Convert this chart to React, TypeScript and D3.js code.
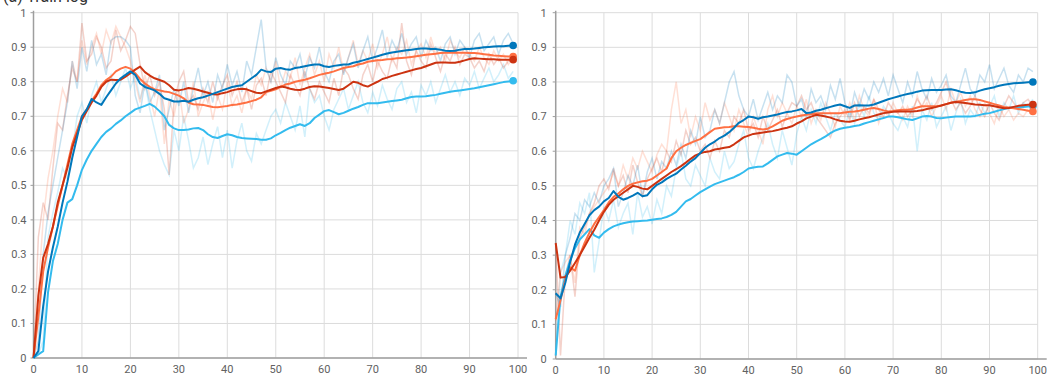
import * as d3 from "d3";

// training curves, one value per step (0..99)
const yTicks = [0, 0.1, 0.2, 0.3, 0.4, 0.5, 0.6, 0.7, 0.8, 0.9, 1];
const xTicks = [0, 10, 20, 30, 40, 50, 60, 70, 80, 90, 100];

// ---- panel A (left) smoothed
const leftBlue = [0,0.02,0.15,0.25,0.32,0.38,0.45,0.51,0.58,0.64,0.70,0.72,0.75,0.74,0.733,0.755,0.775,0.795,0.81,0.82,0.83,0.82,0.795,0.785,0.78,0.775,0.765,0.752,0.748,0.743,
  0.743,0.745,0.742,0.748,0.752,0.755,0.76,0.765,0.77,0.775,0.78,0.785,0.788,0.79,0.80,0.81,0.82,0.835,0.83,0.828,0.838,0.84,0.836,0.835,0.84,0.842,0.845,0.848,0.85,0.85,
  0.845,0.843,0.846,0.848,0.85,0.85,0.855,0.858,0.862,0.866,0.87,0.874,0.878,0.882,0.885,0.887,0.889,0.891,0.893,0.895,0.896,0.896,0.895,0.895,0.893,0.89,0.889,0.89,0.893,0.895,
  0.895,0.896,0.898,0.9,0.901,0.902,0.903,0.903,0.904,0.905];
const leftOrange = [0,0.12,0.25,0.32,0.38,0.44,0.50,0.56,0.62,0.66,0.70,0.72,0.745,0.765,0.79,0.805,0.815,0.83,0.838,0.843,0.838,0.825,0.808,0.795,0.785,0.778,0.775,0.772,0.77,0.765,
  0.76,0.752,0.74,0.735,0.734,0.733,0.73,0.727,0.726,0.728,0.73,0.733,0.734,0.737,0.74,0.744,0.748,0.755,0.77,0.774,0.778,0.785,0.792,0.795,0.80,0.803,0.806,0.81,0.815,0.82,
  0.823,0.826,0.83,0.835,0.84,0.843,0.845,0.85,0.853,0.858,0.86,0.862,0.863,0.865,0.866,0.868,0.869,0.87,0.872,0.874,0.876,0.878,0.88,0.881,0.883,0.884,0.884,0.885,0.884,0.884,
  0.883,0.883,0.882,0.88,0.878,0.876,0.875,0.874,0.873,0.873];
const leftRed = [0,0.18,0.29,0.33,0.38,0.45,0.50,0.55,0.61,0.65,0.69,0.715,0.74,0.76,0.785,0.80,0.806,0.805,0.806,0.815,0.825,0.835,0.844,0.828,0.818,0.81,0.805,0.80,0.79,0.777,
  0.775,0.778,0.782,0.78,0.776,0.772,0.768,0.764,0.763,0.767,0.77,0.775,0.778,0.78,0.778,0.773,0.768,0.767,0.772,0.777,0.782,0.786,0.784,0.78,0.777,0.776,0.78,0.785,0.787,0.786,
  0.784,0.782,0.779,0.776,0.78,0.79,0.80,0.797,0.79,0.786,0.793,0.80,0.808,0.812,0.817,0.821,0.825,0.829,0.833,0.837,0.84,0.845,0.85,0.855,0.856,0.856,0.855,0.855,0.858,0.862,
  0.866,0.868,0.867,0.866,0.865,0.865,0.864,0.864,0.864,0.864];
const leftCyan = [0,0.01,0.02,0.19,0.28,0.33,0.40,0.45,0.46,0.50,0.545,0.575,0.60,0.62,0.64,0.655,0.665,0.678,0.688,0.70,0.71,0.72,0.725,0.73,0.736,0.728,0.715,0.70,0.675,0.665,
  0.66,0.66,0.662,0.665,0.666,0.66,0.648,0.64,0.637,0.643,0.648,0.645,0.64,0.637,0.636,0.635,0.634,0.632,0.632,0.636,0.645,0.652,0.66,0.667,0.672,0.677,0.672,0.68,0.695,0.705,
  0.715,0.718,0.712,0.706,0.71,0.716,0.722,0.727,0.733,0.738,0.738,0.738,0.74,0.742,0.744,0.746,0.748,0.752,0.756,0.757,0.757,0.758,0.76,0.762,0.765,0.768,0.771,0.773,0.775,0.777,
  0.779,0.781,0.784,0.787,0.79,0.793,0.796,0.799,0.801,0.803];

// ---- panel A raw
const leftBlueRaw = [0.00,0.05,0.30,0.42,0.50,0.58,0.66,0.74,0.86,0.78,0.90,0.83,0.92,0.85,0.88,0.82,0.92,0.93,0.93,0.92,0.90,0.76,0.71,0.80,0.74,0.77,0.82,0.66,0.72,0.78,
  0.73,0.80,0.71,0.78,0.84,0.76,0.80,0.74,0.82,0.78,0.85,0.79,0.83,0.77,0.86,0.82,0.90,0.98,0.84,0.80,0.87,0.82,0.79,0.86,0.84,0.88,0.81,0.87,0.84,0.90,
  0.83,0.80,0.86,0.88,0.82,0.87,0.91,0.84,0.89,0.93,0.86,0.90,0.95,0.87,0.92,0.89,0.94,0.88,0.91,0.93,0.87,0.92,0.89,0.90,0.86,0.91,0.93,0.88,0.92,0.90,
  0.87,0.92,0.94,0.89,0.91,0.93,0.88,0.92,0.94,0.91];
const leftCyanRaw = [0.00,0.01,0.05,0.35,0.42,0.48,0.55,0.52,0.60,0.70,0.74,0.68,0.76,0.80,0.74,0.78,0.82,0.76,0.80,0.84,0.78,0.82,0.75,0.80,0.72,0.66,0.60,0.56,0.53,0.66,
  0.60,0.70,0.63,0.55,0.58,0.64,0.56,0.62,0.67,0.58,0.66,0.55,0.63,0.68,0.60,0.57,0.65,0.62,0.66,0.70,0.72,0.68,0.74,0.70,0.66,0.73,0.64,0.78,0.74,0.76,
  0.70,0.66,0.72,0.75,0.78,0.72,0.76,0.80,0.74,0.71,0.77,0.73,0.79,0.75,0.72,0.78,0.80,0.74,0.77,0.71,0.79,0.76,0.80,0.74,0.78,0.82,0.77,0.80,0.76,0.81,
  0.79,0.83,0.78,0.81,0.84,0.80,0.82,0.85,0.81,0.83];
const leftOrangeRaw = [0.00,0.20,0.40,0.52,0.60,0.70,0.78,0.74,0.86,0.80,0.92,0.85,0.90,0.94,0.88,0.95,0.91,0.96,0.93,0.90,0.86,0.80,0.74,0.82,0.76,0.70,0.78,0.62,0.75,0.70,
  0.78,0.68,0.72,0.80,0.70,0.74,0.77,0.69,0.76,0.72,0.80,0.73,0.76,0.71,0.78,0.75,0.82,0.79,0.84,0.80,0.86,0.78,0.83,0.81,0.87,0.79,0.84,0.88,0.82,0.86,
  0.80,0.88,0.84,0.90,0.83,0.87,0.92,0.85,0.89,0.86,0.91,0.84,0.88,0.93,0.86,0.90,0.88,0.92,0.85,0.89,0.91,0.87,0.93,0.88,0.90,0.86,0.92,0.89,0.87,0.90,
  0.88,0.86,0.90,0.87,0.85,0.89,0.86,0.88,0.85,0.87];
const leftRedRaw = [0.00,0.35,0.45,0.40,0.55,0.68,0.66,0.76,0.84,0.80,0.97,0.86,0.88,0.93,0.90,0.84,0.86,0.95,0.89,0.92,0.96,0.94,0.85,0.78,0.82,0.76,0.80,0.72,0.53,0.74,
  0.80,0.83,0.74,0.76,0.72,0.78,0.74,0.80,0.75,0.79,0.82,0.76,0.80,0.74,0.78,0.72,0.79,0.81,0.76,0.83,0.80,0.77,0.74,0.82,0.79,0.76,0.83,0.78,0.75,0.80,
  0.77,0.74,0.81,0.76,0.84,0.82,0.78,0.75,0.82,0.85,0.80,0.86,0.83,0.81,0.87,0.84,0.97,0.86,0.82,0.89,0.86,0.84,0.91,0.87,0.83,0.88,0.86,0.90,0.85,0.88,
  0.87,0.84,0.86,0.83,0.88,0.85,0.87,0.84,0.86,0.86];

// ---- panel B (right) smoothed
const rightBlue = [0.19,0.175,0.22,0.28,0.33,0.365,0.39,0.415,0.43,0.44,0.455,0.465,0.485,0.468,0.46,0.465,0.472,0.48,0.47,0.473,0.49,0.503,0.51,0.52,0.528,0.535,0.547,0.558,0.57,0.58,
  0.595,0.61,0.62,0.628,0.638,0.645,0.655,0.668,0.682,0.69,0.70,0.698,0.694,0.698,0.70,0.703,0.706,0.71,0.713,0.715,0.718,0.722,0.71,0.712,0.717,0.72,0.724,0.728,0.732,0.735,
  0.73,0.725,0.732,0.733,0.732,0.732,0.735,0.74,0.745,0.75,0.754,0.758,0.762,0.765,0.768,0.772,0.775,0.776,0.777,0.777,0.777,0.778,0.779,0.776,0.772,0.769,0.768,0.77,0.775,0.779,
  0.782,0.785,0.789,0.792,0.794,0.796,0.797,0.798,0.799,0.80];
const rightOrange = [0.115,0.17,0.23,0.265,0.255,0.30,0.335,0.365,0.39,0.41,0.43,0.452,0.468,0.478,0.49,0.50,0.506,0.51,0.513,0.515,0.52,0.53,0.54,0.55,0.58,0.60,0.61,0.618,0.624,0.63,
  0.635,0.645,0.655,0.665,0.667,0.669,0.67,0.672,0.672,0.671,0.67,0.668,0.665,0.663,0.665,0.672,0.68,0.688,0.693,0.697,0.70,0.703,0.705,0.707,0.709,0.71,0.71,0.71,0.71,0.71,
  0.712,0.714,0.715,0.717,0.72,0.723,0.725,0.722,0.718,0.715,0.716,0.718,0.72,0.72,0.722,0.726,0.73,0.73,0.73,0.73,0.732,0.736,0.74,0.743,0.745,0.748,0.75,0.75,0.748,0.744,
  0.74,0.736,0.732,0.728,0.726,0.724,0.722,0.72,0.717,0.715];
const rightRed = [0.335,0.235,0.237,0.255,0.277,0.30,0.325,0.35,0.373,0.40,0.425,0.445,0.46,0.47,0.48,0.49,0.50,0.497,0.492,0.49,0.50,0.51,0.52,0.53,0.54,0.548,0.557,0.567,0.578,0.588,
  0.594,0.598,0.60,0.605,0.607,0.61,0.612,0.62,0.63,0.64,0.645,0.65,0.652,0.654,0.656,0.658,0.661,0.665,0.668,0.672,0.68,0.686,0.695,0.70,0.705,0.703,0.70,0.697,0.692,0.688,
  0.686,0.685,0.688,0.692,0.695,0.698,0.702,0.706,0.71,0.712,0.714,0.715,0.715,0.715,0.715,0.716,0.718,0.722,0.725,0.728,0.732,0.736,0.74,0.742,0.741,0.739,0.737,0.735,0.734,0.733,
  0.733,0.73,0.727,0.724,0.725,0.728,0.731,0.733,0.734,0.735];
const rightCyan = [0.01,0.18,0.24,0.285,0.32,0.345,0.36,0.375,0.357,0.35,0.365,0.375,0.383,0.388,0.392,0.395,0.397,0.398,0.399,0.40,0.402,0.404,0.406,0.41,0.416,0.425,0.44,0.455,0.462,0.472,
  0.482,0.49,0.498,0.505,0.51,0.515,0.52,0.525,0.532,0.54,0.55,0.553,0.555,0.556,0.565,0.575,0.585,0.59,0.595,0.593,0.59,0.60,0.61,0.62,0.628,0.635,0.643,0.652,0.66,0.665,
  0.668,0.67,0.673,0.675,0.68,0.684,0.688,0.692,0.696,0.70,0.70,0.698,0.695,0.692,0.69,0.695,0.70,0.702,0.70,0.696,0.695,0.697,0.699,0.70,0.70,0.70,0.70,0.702,0.705,0.708,
  0.71,0.714,0.718,0.722,0.725,0.727,0.727,0.728,0.729,0.73];

// ---- panel B raw
const rightBlueRaw = [0.19,0.15,0.30,0.35,0.42,0.40,0.46,0.44,0.48,0.45,0.50,0.52,0.55,0.44,0.48,0.53,0.50,0.56,0.47,0.54,0.58,0.52,0.57,0.55,0.60,0.56,0.62,0.58,0.66,0.62,
  0.70,0.64,0.66,0.72,0.68,0.74,0.80,0.83,0.76,0.72,0.70,0.75,0.69,0.73,0.77,0.72,0.76,0.74,0.82,0.80,0.73,0.75,0.70,0.78,0.74,0.76,0.72,0.79,0.75,0.81,
  0.74,0.70,0.77,0.73,0.78,0.75,0.80,0.77,0.81,0.76,0.82,0.78,0.74,0.80,0.76,0.83,0.78,0.75,0.81,0.77,0.79,0.82,0.76,0.74,0.79,0.84,0.78,0.76,0.82,0.80,
  0.85,0.78,0.81,0.84,0.79,0.77,0.82,0.80,0.84,0.83];
const rightCyanRaw = [0.01,0.25,0.30,0.40,0.36,0.45,0.42,0.48,0.25,0.34,0.44,0.40,0.46,0.38,0.42,0.45,0.36,0.48,0.41,0.44,0.39,0.46,0.42,0.50,0.47,0.55,0.60,0.52,0.50,0.56,
  0.53,0.50,0.58,0.54,0.52,0.60,0.55,0.57,0.62,0.66,0.58,0.55,0.60,0.64,0.68,0.62,0.58,0.66,0.61,0.56,0.65,0.70,0.66,0.72,0.68,0.74,0.70,0.66,0.71,0.69,
  0.67,0.72,0.68,0.74,0.70,0.76,0.71,0.69,0.73,0.71,0.68,0.66,0.70,0.67,0.73,0.60,0.72,0.69,0.74,0.67,0.70,0.73,0.66,0.71,0.75,0.68,0.72,0.70,0.74,0.71,
  0.73,0.76,0.70,0.74,0.72,0.76,0.71,0.74,0.73,0.75];
const rightOrangeRaw = [0.11,0.25,0.28,0.30,0.22,0.38,0.36,0.42,0.44,0.46,0.48,0.50,0.54,0.50,0.56,0.52,0.58,0.55,0.60,0.57,0.54,0.59,0.62,0.60,0.72,0.80,0.68,0.72,0.64,0.70,
  0.66,0.74,0.69,0.72,0.68,0.74,0.70,0.66,0.72,0.68,0.64,0.70,0.66,0.62,0.72,0.76,0.70,0.74,0.71,0.68,0.73,0.70,0.75,0.68,0.72,0.69,0.74,0.71,0.67,0.73,
  0.70,0.74,0.69,0.76,0.72,0.70,0.75,0.68,0.72,0.70,0.74,0.71,0.69,0.73,0.70,0.76,0.72,0.74,0.70,0.73,0.76,0.72,0.78,0.74,0.77,0.73,0.76,0.72,0.70,0.74,
  0.71,0.68,0.73,0.70,0.72,0.69,0.71,0.70,0.72,0.71];
const rightRedRaw = [0.33,0.01,0.24,0.30,0.18,0.35,0.38,0.42,0.45,0.50,0.52,0.49,0.55,0.50,0.53,0.48,0.56,0.51,0.47,0.52,0.55,0.58,0.54,0.60,0.57,0.63,0.59,0.66,0.62,0.64,
  0.60,0.62,0.58,0.63,0.60,0.66,0.64,0.70,0.68,0.72,0.66,0.68,0.64,0.70,0.66,0.69,0.72,0.67,0.71,0.74,0.73,0.76,0.72,0.74,0.70,0.68,0.66,0.64,0.68,0.70,
  0.72,0.69,0.74,0.70,0.73,0.71,0.75,0.72,0.70,0.74,0.72,0.71,0.73,0.70,0.72,0.75,0.73,0.76,0.72,0.74,0.77,0.80,0.75,0.72,0.74,0.71,0.73,0.76,0.72,0.70,
  0.74,0.71,0.69,0.73,0.76,0.74,0.72,0.74,0.75,0.73];

const COLORS = { blue: "#0077bb", cyan: "#33bbee", red: "#cc3311", orange: "#ff7043" };

type Series = { color: string; smooth: number[]; raw: number[] };

const panels = [
  {
    x0: 33.5, x1: 518, y0: 358, y1: 12.7, labelGap: 7,
    series: [
      { color: COLORS.cyan, smooth: leftCyan, raw: leftCyanRaw },
      { color: COLORS.orange, smooth: leftOrange, raw: leftOrangeRaw },
      { color: COLORS.red, smooth: leftRed, raw: leftRedRaw },
      { color: COLORS.blue, smooth: leftBlue, raw: leftBlueRaw },
    ] as Series[],
  },
  {
    x0: 555.7, x1: 1037.7, y0: 359, y1: 12.7, labelGap: 9,
    series: [
      { color: COLORS.cyan, smooth: rightCyan, raw: rightCyanRaw },
      { color: COLORS.orange, smooth: rightOrange, raw: rightOrangeRaw },
      { color: COLORS.red, smooth: rightRed, raw: rightRedRaw },
      { color: COLORS.blue, smooth: rightBlue, raw: rightBlueRaw },
    ] as Series[],
  },
];

function Panel({ p }: { p: (typeof panels)[number] }) {
  const x = d3.scaleLinear().domain([0, 100]).range([p.x0, p.x1]);
  const y = d3.scaleLinear().domain([0, 1]).range([p.y0, p.y1]);
  const line = d3
    .line<number>()
    .x((_, i) => x(i))
    .y((d) => y(d));

  return (
    <g>
      {/* grid */}
      {yTicks.map((t) => (
        <line key={"h" + t} x1={x(0)} x2={x(100)} y1={y(t)} y2={y(t)} stroke="#dcdcdc" strokeWidth={1} />
      ))}
      {xTicks.map((t) => (
        <line key={"v" + t} x1={x(t)} x2={x(t)} y1={y(0)} y2={y(1)} stroke="#dcdcdc" strokeWidth={1} />
      ))}
      {/* axes */}
      <line x1={x(0)} x2={x(100) + 9} y1={y(0)} y2={y(0)} stroke="#9e9e9e" strokeWidth={1.5} />
      <line x1={x(0)} x2={x(0)} y1={y(0)} y2={y(1) - 2} stroke="#9e9e9e" strokeWidth={1.5} />
      {yTicks.map((t) => (
        <g key={"yt" + t}>
          <line x1={x(0) - 3} x2={x(0)} y1={y(t)} y2={y(t)} stroke="#9e9e9e" strokeWidth={1} />
          <text x={x(0) - p.labelGap} y={y(t)} dy="0.35em" textAnchor="end" fontSize={11} fill="#616161">
            {d3.format("~g")(t)}
          </text>
        </g>
      ))}
      {xTicks.map((t) => (
        <text key={"xt" + t} x={x(t)} y={y(0) + 15} textAnchor="middle" fontSize={11} fill="#616161">
          {t}
        </text>
      ))}
      {/* raw (unsmoothed) lines */}
      {p.series.map((s, i) => (
        <path key={"r" + i} d={line(s.raw) || ""} fill="none" stroke={s.color} strokeOpacity={0.22} strokeWidth={1.5} />
      ))}
      {/* smoothed lines */}
      {p.series.map((s, i) => (
        <path key={"s" + i} d={line(s.smooth) || ""} fill="none" stroke={s.color} strokeWidth={2} strokeLinejoin="round" />
      ))}
      {p.series.map((s, i) => (
        <circle key={"c" + i} cx={x(s.smooth.length - 1)} cy={y(s.smooth[s.smooth.length - 1])} r={3.8} fill={s.color} />
      ))}
    </g>
  );
}

export default function App() {
  return (
    <svg
      width={1055}
      height={376}
      style={{ position: "absolute", left: 0, top: 0, background: "#fff", fontFamily: "Roboto, 'Noto Sans', sans-serif" }}
    >
      <text x={3} y={2} fontSize={16} fill="#333">(a) Train log</text>
      {panels.map((p, i) => (
        <Panel key={i} p={p} />
      ))}
    </svg>
  );
}
